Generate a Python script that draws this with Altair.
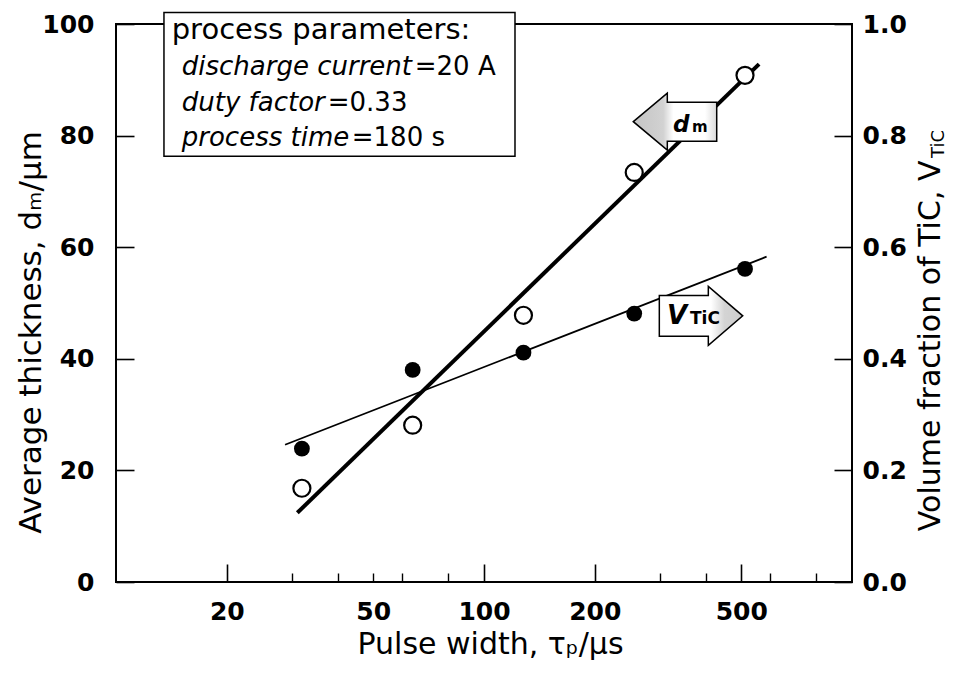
import altair as alt
import pandas as pd

# ---------------- data ----------------
pulse_width_us = [32, 64, 128, 256, 512]
avg_thickness_um = [16.8, 28.1, 47.8, 73.4, 90.8]
vol_fraction_tic = [0.239, 0.380, 0.411, 0.481, 0.561]

dm_fit_pulse = [31.1, 559.0]
dm_fit_thickness = [12.4, 92.8]
vf_fit_pulse = [28.8, 586.0]
vf_fit_fraction = [0.246, 0.583]

x_tick_labels = [20, 50, 100, 200, 500]
x_major_ticks = [20, 100, 200, 500]
x_minor_ticks = [30, 40, 50, 60, 80, 300, 400, 600, 800]
y_ticks = [0, 20, 40, 60, 80, 100]

# annotation texts
box_heading = ["process parameters:"]
param_names = ["discharge current", "duty factor", "process time"]
param_values = ["=20 A", "=0.33", "=180 s"]

# annotation anchor positions (data coordinates)
box_pulse = [13.5]
box_pulse2 = [121.4]
box_top = [102.05]
box_bottom = [76.3]
heading_pulse = [14.17]
heading_thick = [98.9]
param_pulse = [15.09, 15.09, 15.09]
param_thick = [92.3, 85.8, 79.6]
param_value_dx = [233, 146, 170]

dm_arrow_pulse = [330.4]
dm_arrow_thick = [82.5]
dm_label_thick = [80.6]
vf_arrow_pulse = [388.8]
vf_arrow_thick = [47.7]
vf_label_thick = [46.2]

FONT = "DejaVu Sans"
W, H = 736, 558

X_SCALE = alt.Scale(type="log", domain=[10, 1000], nice=False)
Y_SCALE = alt.Scale(domain=[0, 100], nice=False, zero=False)

pts = pd.DataFrame({"pulse": pulse_width_us, "thickness": avg_thickness_um,
                    "vf": vol_fraction_tic})
dm_fit = pd.DataFrame({"pulse": dm_fit_pulse, "thickness": dm_fit_thickness})
vf_fit = pd.DataFrame({"pulse": vf_fit_pulse, "vf": vf_fit_fraction})

# ---------------- axes ----------------
ax_x_labels = alt.Axis(
    orient="bottom", values=x_tick_labels, format="d", ticks=False, tickSize=0,
    domain=False, grid=False, labelFont=FONT, labelFontSize=25, labelFontWeight="bold",
    labelColor="black", labelPadding=17, labelFlush=False, labelOverlap=False,
    title="Pulse width, τₚ/μs", titleFont=FONT, titleFontSize=30,
    titleFontWeight="normal", titleColor="black", titleX=374, titleY=71,
    titleAlign="center", titleBaseline="alphabetic")
ax_x_major = alt.Axis(
    orient="top", offset=-H, values=x_major_ticks, labels=False, domain=False,
    grid=False, ticks=True, tickSize=18, tickWidth=1.6, tickColor="black", title=None)
ax_x_minor = alt.Axis(
    orient="top", offset=-H, values=x_minor_ticks, labels=False, domain=False,
    grid=False, ticks=True, tickSize=9, tickWidth=1.4, tickColor="black", title=None)

ax_y_left_labels = alt.Axis(
    orient="left", values=y_ticks, format="d", ticks=False, tickSize=0, domain=False,
    grid=False, labelFont=FONT, labelFontSize=25, labelFontWeight="bold",
    labelColor="black", labelPadding=22, labelFlush=False, labelOverlap=False,
    title="Average thickness, dₘ/μm", titleFont=FONT, titleFontSize=31,
    titleFontWeight="normal", titleColor="black", titleAngle=270, titleX=-85,
    titleY=308, titleAlign="center", titleBaseline="middle")
ax_y_right_labels = alt.Axis(
    orient="right", values=y_ticks, labelExpr="format(datum.value / 100, '.1f')",
    ticks=False, tickSize=0, domain=False, grid=False, labelFont=FONT,
    labelFontSize=25, labelFontWeight="bold", labelColor="black", labelPadding=10,
    labelFlush=False, labelOverlap=False,
    title="Volume fraction of TiC, V", titleFont=FONT, titleFontSize=30,
    titleFontWeight="normal", titleColor="black", titleAngle=270, titleX=78,
    titleY=136, titleAlign="right", titleBaseline="middle")
ax_y_left_ticks = alt.Axis(
    orient="right", offset=-W, values=y_ticks, labels=False, domain=False, grid=False,
    ticks=True, tickSize=18, tickWidth=1.6, tickColor="black", title=None)
ax_y_right_ticks = alt.Axis(
    orient="left", offset=-W, values=y_ticks, labels=False, domain=False, grid=False,
    ticks=True, tickSize=18, tickWidth=1.6, tickColor="black", title=None)

# ---------------- layers ----------------
dm_line = alt.Chart(dm_fit).mark_line(color="black", strokeWidth=4).encode(
    x=alt.X("pulse:Q", scale=X_SCALE, axis=ax_x_minor),
    y=alt.Y("thickness:Q", scale=Y_SCALE, axis=ax_y_left_ticks))

vf_line = alt.Chart(vf_fit).transform_calculate(vf100="datum.vf * 100").mark_line(
    color="black", strokeWidth=1.8).encode(
    x=alt.X("pulse:Q", scale=X_SCALE, axis=None),
    y=alt.Y("vf100:Q", scale=Y_SCALE, axis=ax_y_right_ticks))

open_pts = alt.Chart(pts).mark_point(
    shape="circle", filled=True, fill="white", stroke="black", strokeWidth=2.2,
    size=290, opacity=1).encode(
    x=alt.X("pulse:Q", scale=X_SCALE, axis=ax_x_labels),
    y=alt.Y("thickness:Q", scale=Y_SCALE, axis=ax_y_left_labels))

filled_pts = alt.Chart(pts).transform_calculate(vf100="datum.vf * 100").mark_circle(
    color="black", size=250, opacity=1).encode(
    x=alt.X("pulse:Q", scale=X_SCALE, axis=ax_x_major),
    y=alt.Y("vf100:Q", scale=Y_SCALE, axis=ax_y_right_labels))

# parameter box
box_df = pd.DataFrame({"x": box_pulse, "x2": box_pulse2, "y": box_top, "y2": box_bottom})
box = alt.Chart(box_df).mark_rect(fill="white", stroke="black", strokeWidth=1.5).encode(
    x=alt.X("x:Q", scale=X_SCALE, axis=None), x2="x2:Q",
    y=alt.Y("y:Q", scale=Y_SCALE, axis=None), y2="y2:Q")

heading_df = pd.DataFrame({"x": heading_pulse, "y": heading_thick, "t": box_heading})
heading = alt.Chart(heading_df).mark_text(
    font=FONT, fontSize=29, align="left", baseline="middle", color="black").encode(
    x=alt.X("x:Q", scale=X_SCALE, axis=None),
    y=alt.Y("y:Q", scale=Y_SCALE, axis=None), text="t:N")

param_layers = []
for i in range(3):
    pdf = pd.DataFrame({"x": [param_pulse[i]], "y": [param_thick[i]],
                        "n": [param_names[i]], "v": [param_values[i]]})
    param_layers.append(alt.Chart(pdf).mark_text(
        font=FONT, fontSize=26, fontStyle="italic", align="left", baseline="middle",
        color="black").encode(
        x=alt.X("x:Q", scale=X_SCALE, axis=None),
        y=alt.Y("y:Q", scale=Y_SCALE, axis=None), text="n:N"))
    param_layers.append(alt.Chart(pdf).mark_text(
        font=FONT, fontSize=26, align="left", baseline="middle", color="black",
        dx=param_value_dx[i]).encode(
        x=alt.X("x:Q", scale=X_SCALE, axis=None),
        y=alt.Y("y:Q", scale=Y_SCALE, axis=None), text="v:N"))

# arrows
LEFT_ARROW = ("M -4.17 0 L -0.77 -2.85 L -0.77 -1.95 L 4.17 -1.95 L 4.17 1.95 "
              "L -0.77 1.95 L -0.77 2.85 Z")
RIGHT_ARROW = ("M -4.17 -2.04 L 0.73 -2.04 L 0.73 -2.95 L 4.17 0 L 0.73 2.95 "
               "L 0.73 2.04 L -4.17 2.04 Z")

dm_grad = alt.LinearGradient(
    gradient="linear", x1=0, x2=1, y1=0, y2=0,
    stops=[alt.GradientStop(color="#c4c4c4", offset=0),
           alt.GradientStop(color="#d2d2d2", offset=0.36),
           alt.GradientStop(color="#ffffff", offset=0.48),
           alt.GradientStop(color="#ffffff", offset=0.86),
           alt.GradientStop(color="#dadada", offset=1)])
vf_grad = alt.LinearGradient(
    gradient="linear", x1=0, x2=1, y1=0, y2=0,
    stops=[alt.GradientStop(color="#ffffff", offset=0),
           alt.GradientStop(color="#ffffff", offset=0.62),
           alt.GradientStop(color="#d4d4d4", offset=0.78),
           alt.GradientStop(color="#cccccc", offset=1)])

dm_arrow_df = pd.DataFrame({"x": dm_arrow_pulse, "y": dm_arrow_thick,
                            "yl": dm_label_thick, "a": ["d"], "b": ["m"]})
vf_arrow_df = pd.DataFrame({"x": vf_arrow_pulse, "y": vf_arrow_thick,
                            "yl": vf_label_thick, "a": ["V"], "b": ["TiC"]})

dm_arrow = alt.Chart(dm_arrow_df).mark_point(
    shape=LEFT_ARROW, size=400, filled=True, fill=dm_grad, stroke="black",
    strokeWidth=1.5, opacity=1).encode(
    x=alt.X("x:Q", scale=X_SCALE, axis=None), y=alt.Y("y:Q", scale=Y_SCALE, axis=None))
dm_lab_a = alt.Chart(dm_arrow_df).mark_text(
    font=FONT, fontSize=23, fontWeight="bold", fontStyle="italic", align="left",
    baseline="alphabetic", color="black", dx=-2).encode(
    x=alt.X("x:Q", scale=X_SCALE, axis=None), y=alt.Y("yl:Q", scale=Y_SCALE, axis=None),
    text="a:N")
dm_lab_b = alt.Chart(dm_arrow_df).mark_text(
    font=FONT, fontSize=15, fontWeight="bold", align="left", baseline="alphabetic",
    color="black", dx=17).encode(
    x=alt.X("x:Q", scale=X_SCALE, axis=None), y=alt.Y("yl:Q", scale=Y_SCALE, axis=None),
    text="b:N")

vf_arrow = alt.Chart(vf_arrow_df).mark_point(
    shape=RIGHT_ARROW, size=400, filled=True, fill=vf_grad, stroke="black",
    strokeWidth=1.5, opacity=1).encode(
    x=alt.X("x:Q", scale=X_SCALE, axis=None), y=alt.Y("y:Q", scale=Y_SCALE, axis=None))
vf_lab_a = alt.Chart(vf_arrow_df).mark_text(
    font=FONT, fontSize=26, fontWeight="bold", fontStyle="italic", align="left",
    baseline="alphabetic", color="black", dx=-34).encode(
    x=alt.X("x:Q", scale=X_SCALE, axis=None), y=alt.Y("yl:Q", scale=Y_SCALE, axis=None),
    text="a:N")
vf_lab_b = alt.Chart(vf_arrow_df).mark_text(
    font=FONT, fontSize=17, fontWeight="bold", align="left", baseline="alphabetic",
    color="black", dx=-11).encode(
    x=alt.X("x:Q", scale=X_SCALE, axis=None), y=alt.Y("yl:Q", scale=Y_SCALE, axis=None),
    text="b:N")

# subscript of the right axis title
sub_df = pd.DataFrame({"t": ["TiC"]})
right_sub = alt.Chart(sub_df).mark_text(
    font=FONT, fontSize=18, align="left", baseline="middle", angle=270,
    color="black").encode(x=alt.value(W + 87), y=alt.value(134), text="t:N")

chart = alt.layer(
    dm_line, vf_line, open_pts, filled_pts, box, heading, *param_layers,
    dm_arrow, dm_lab_a, dm_lab_b, vf_arrow, vf_lab_a, vf_lab_b, right_sub
).resolve_axis(x="independent", y="independent").properties(
    width=W, height=H,
    padding={"left": 108, "top": 16, "right": 100, "bottom": 85},
    autosize=alt.AutoSizeParams(type="none"),
).configure_view(stroke="black", strokeWidth=2)

chart.save("out.html", embed_options={"renderer": "svg", "actions": False})
